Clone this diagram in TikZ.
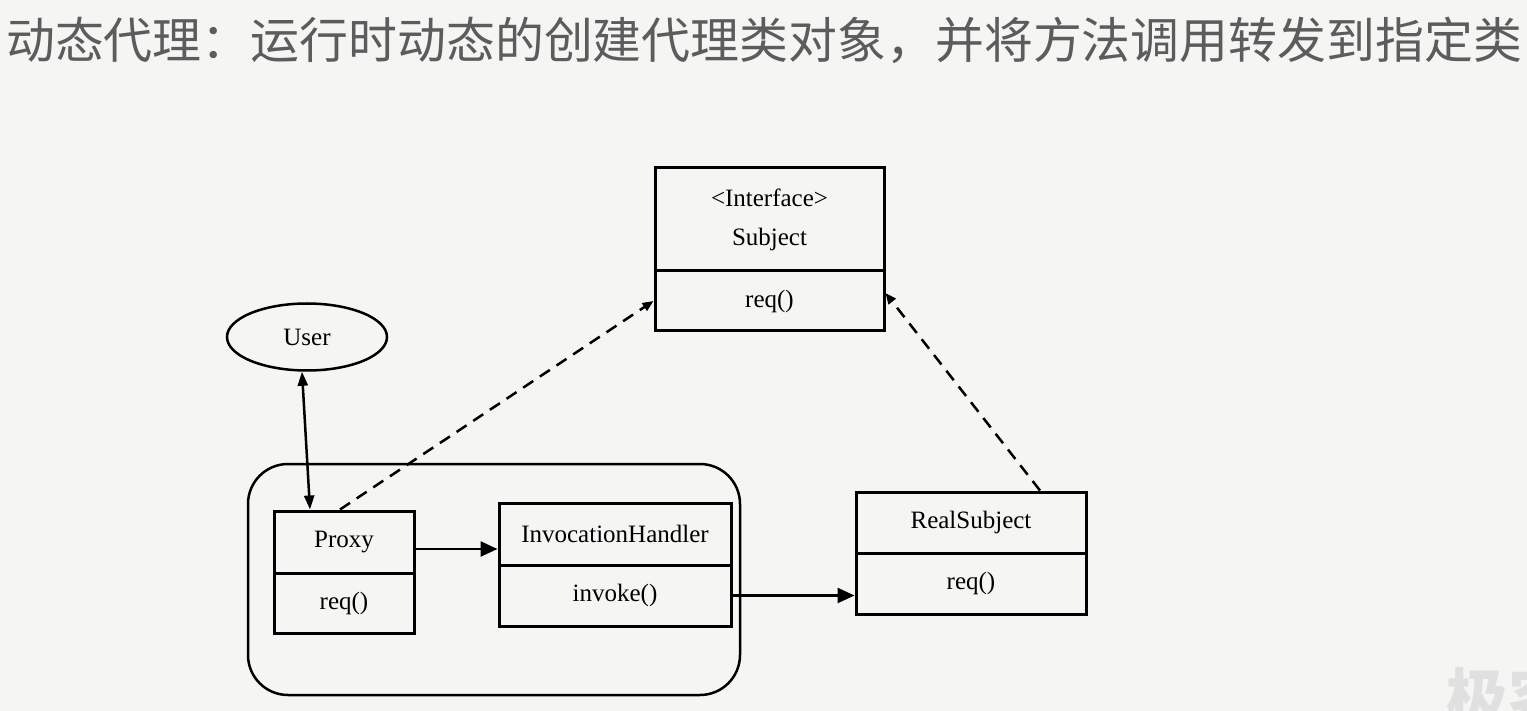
\documentclass[tikz,border=0pt]{standalone}
\usepackage{fontspec}
\setmainfont{Liberation Serif}
\newfontfamily\cjk{Noto Sans CJK SC}
\usetikzlibrary{arrows.meta,shapes.geometric,positioning,calc}
\definecolor{bg}{HTML}{F5F5F3}
\definecolor{titlegray}{HTML}{5C5C5C}

\begin{document}
\begin{tikzpicture}[x=1pt,y=-1pt,
    cls/.style={draw,line width=3pt,inner sep=0pt,minimum width=#1},
    big/.style={-{Triangle[length=17pt,width=15pt]}},
    small/.style={-{Triangle[length=11pt,width=9pt]}},
    dsh/.style={line width=2.5pt,dash pattern=on 12pt off 8pt},
    every node/.style={font=\fontsize{25}{39}\selectfont}]
    \fill[bg] (0,0) rectangle (1527,711);
    \useasboundingbox (0,0) rectangle (1527,711);

    \node[anchor=west,inner sep=0pt,text=titlegray,font=\cjk\fontsize{48.9}{56}\selectfont] (title) at (6,40)
      {动态代理：运行时动态的创建代理类对象，并将方法调用转发到指定类};
    \node[anchor=west,inner sep=0pt,text=black!12,font=\cjk\bfseries\fontsize{62}{62}\selectfont] (mark) at (1446,697) {极客};

    \node[draw,line width=2.5pt,rounded corners=40pt,minimum width=492,minimum height=231] (frame) at (494,579.5) {};

    \node[cls=229,minimum height=103,align=center] (subj) at (769.5,219.5) {<Interface>\\Subject};
    \node[cls=229,minimum height=60] (subjm) at (769.5,301) {req()};
    \node[draw,ellipse,line width=2.5pt,minimum width=160,minimum height=67] (user) at (307,337) {User};
    \node[cls=140,minimum height=62] (proxy) at (344,542) {Proxy};
    \node[cls=140,minimum height=60] (proxym) at (344,603) {req()};
    \node[cls=232,minimum height=62] (inv) at (615,534) {InvocationHandler};
    \node[cls=232,minimum height=61] (invm) at (615,595.5) {invoke()};
    \node[cls=230,minimum height=61] (rs) at (971,522.5) {RealSubject};
    \node[cls=230,minimum height=61] (rsm) at (971,583.5) {req()};

    \begin{scope}[line width=2.5pt]
      \draw[{Triangle[length=14pt,width=10pt]}-{Triangle[length=14pt,width=10pt]}]
        ([xshift=-5pt]user.south) -- ([xshift=-34pt]proxy.north);
      \draw[big] ([yshift=-7pt]proxy.east) -- ([yshift=-7pt]proxy.east -| inv.west);
      \draw[big] ([xshift=-3pt]invm.east) -- (invm.east -| rsm.west);
      \draw[small,dsh] ([xshift=-4pt]proxy.north) -- (subjm.west);
      \draw[small,dsh] ([xshift=69pt]rs.north) -- ([yshift=8pt]subjm.east);
    \end{scope}
\end{tikzpicture}
\end{document}
